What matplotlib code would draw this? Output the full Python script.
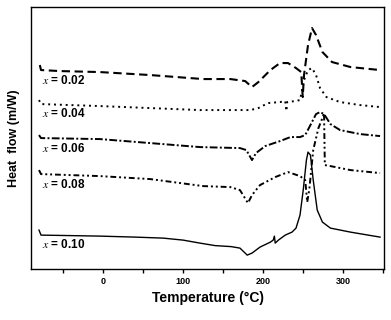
import matplotlib
matplotlib.use("Agg")
import matplotlib.pyplot as plt

plt.rcParams["font.family"] = ["Liberation Sans", "DejaVu Sans"]
plt.rcParams["mathtext.fontset"] = "stix"

# DSC traces (temperature in degC, heat flow in arbitrary units)
T_002 = [-79, -77.5, -54, -4, 59, 125, 159, 177.5, 186, 194, 209, 221, 231, 241, 247.5,
         249.4, 251, 256, 261, 266, 274, 286, 309, 346]
H_002 = [205, 200, 199, 198, 195, 191, 191, 189, 183, 188, 200, 207, 207, 202, 198,
         173, 195, 225, 242, 235, 218, 208, 203, 200]

T_004 = [-80, -77.5, -4, 59, 121, 184, 194, 206, 221, 227.5, 229, 230, 240, 246, 251,
         256, 261, 266, 271, 279, 296, 321, 346]
H_004 = [170, 166, 164, 162, 160, 160, 162, 167, 168, 169, 159, 168, 169, 170, 190,
         200, 202, 195, 182, 173, 168, 165, 163]

T_006 = [-80, -77.5, -4, 59, 121, 171, 179, 186, 191, 202.5, 221, 234, 246, 252.5, 259,
         266, 271, 276, 284, 296, 321, 346]
H_006 = [135, 132, 131, 127, 123, 122, 120, 110, 117, 124, 129, 133, 133, 135, 145,
         156, 158, 156, 146, 140, 136, 134]

T_008 = [-80, -77.5, -4, 59, 125, 159, 171, 181, 186, 196, 215, 231, 246, 252.5, 255,
         257.5, 262.5, 269, 274, 276, 277, 284, 309, 346]
H_008 = [100, 96, 94, 91, 84, 83, 80, 67, 75, 85, 93, 98, 94, 90, 68,
         80, 120, 142, 152, 157, 105, 104, 100, 97]

T_010 = [-80, -77.5, -40, -4, 40, 75, 100, 121, 140, 160, 171, 177.5, 180, 186, 196,
         209, 212.5, 214, 215, 219, 227.5, 236, 241, 246, 250, 254, 256, 259, 262.5,
         267.5, 274, 284, 309, 346]
H_010 = [40, 35, 34.5, 34, 33, 32, 30, 27, 24.5, 23.5, 22, 17, 15, 17, 23,
         28, 30, 34, 27, 30, 35, 38, 42, 55, 80, 110, 118, 115, 90,
         60, 48, 42, 38, 33]

labels = ["0.02", "0.04", "0.06", "0.08", "0.10"]
label_y = [190, 157, 122, 86, 26]

series = [(T_002, H_002, (0, (4, 2.2)), 1.5),
          (T_004, H_004, (0, (1, 2)), 1.4),
          (T_006, H_006, (0, (4, 1.2, 1, 1.2)), 1.4),
          (T_008, H_008, (0, (3, 1.5, 1, 1.5, 1, 1.5)), 1.4),
          (T_010, H_010, "-", 1.0)]

fig = plt.figure(figsize=(3.91, 3.20), dpi=100)
ax = fig.add_axes([0.0793, 0.159, 0.903, 0.819])

for (t, h, ls, lw) in series:
    ax.plot(t, h, color="black", linestyle=ls, linewidth=lw)

for lab, yy in zip(labels, label_y):
    ax.text(-76, yy, r"$x$ = " + lab, fontsize=8.5, fontweight="bold", va="center", ha="left")

ax.set_xlim(-90, 351)
ax.set_ylim(1, 263)
ax.set_xticks([0, 100, 200, 300])
ax.set_xticks([-50, 50, 150, 250, 350], minor=True)
ax.tick_params(axis="x", which="both", direction="out", length=3, width=1, labelsize=6.5, pad=3)
for lbl in ax.get_xticklabels():
    lbl.set_fontweight("bold")
ax.set_yticks([])
for sp in ax.spines.values():
    sp.set_linewidth(1.0)

ax.set_xlabel("Temperature (\u00b0C)", fontsize=10, fontweight="bold", labelpad=3)
ax.set_ylabel("Heat  flow (m/W)", fontsize=9, fontweight="bold", labelpad=8)

fig.savefig("out.png", dpi=100)
